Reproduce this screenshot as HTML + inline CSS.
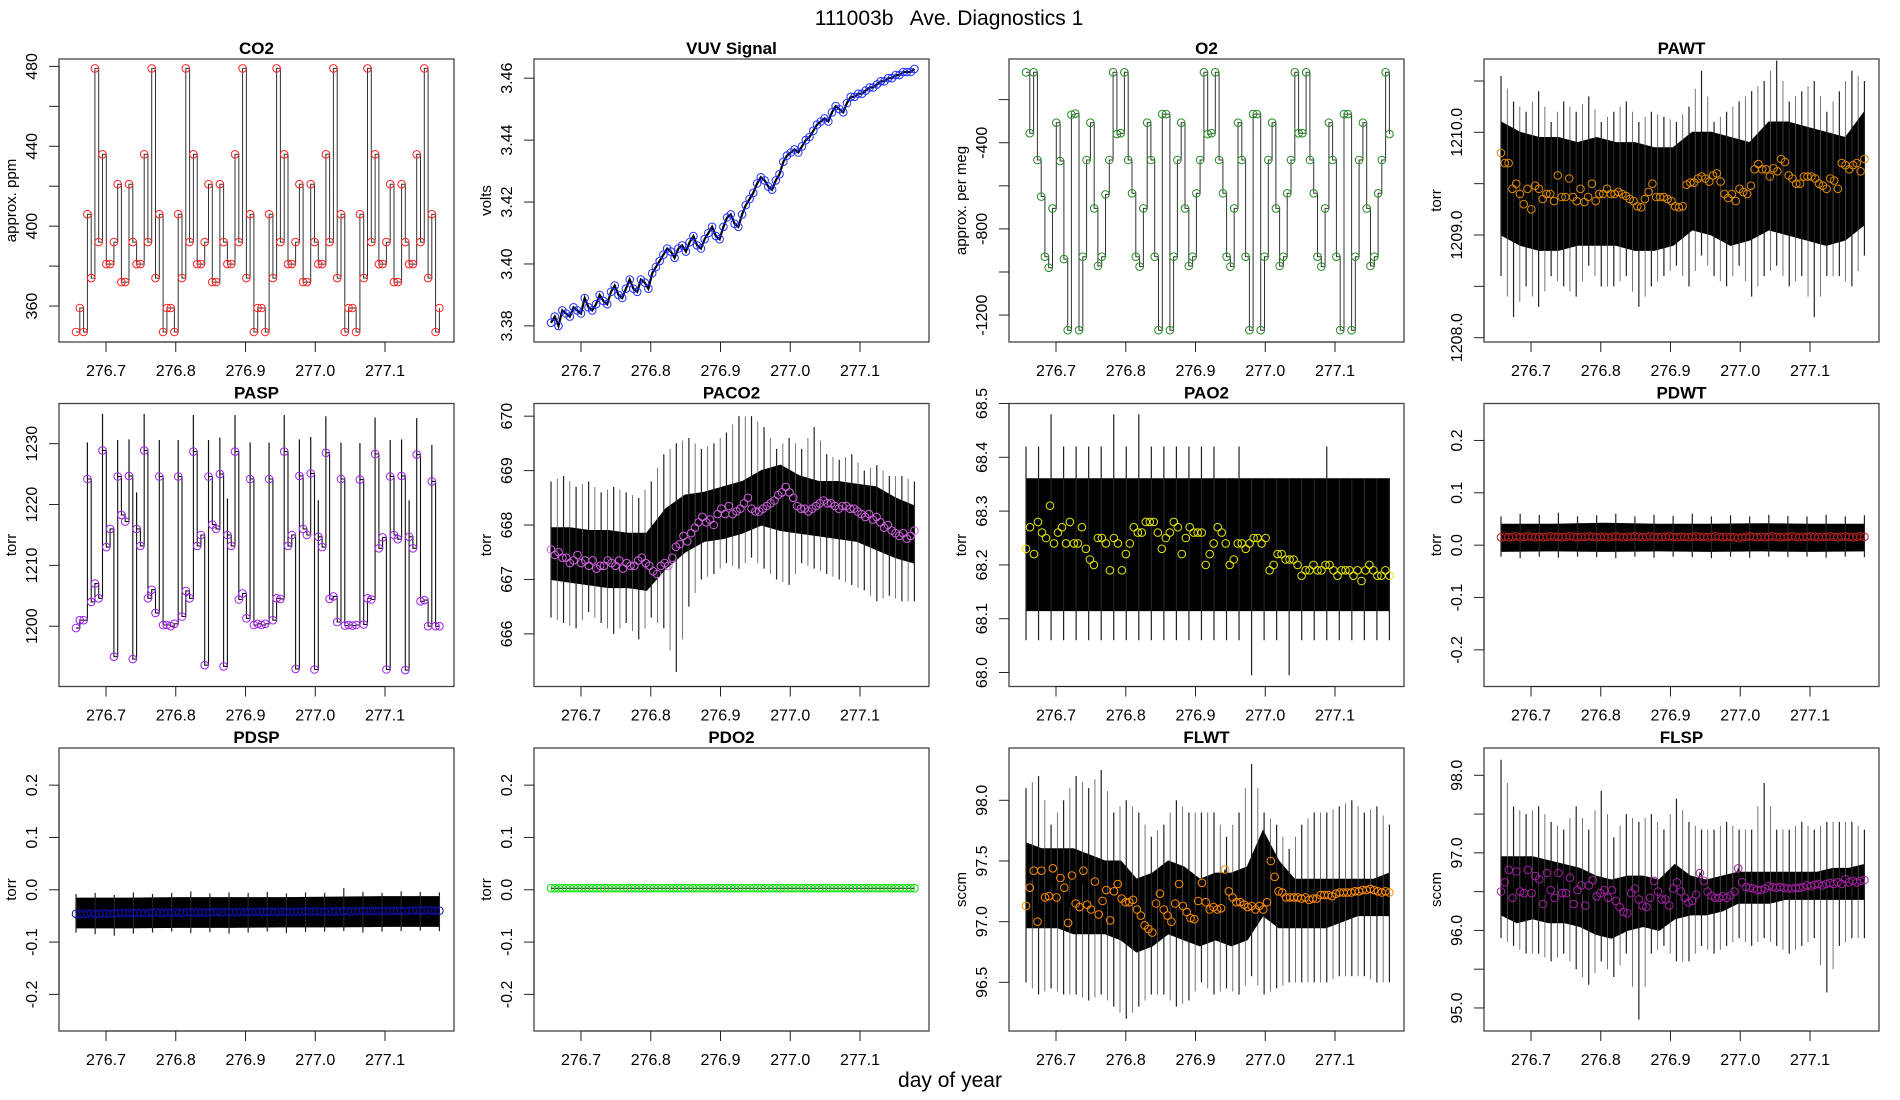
<!DOCTYPE html>
<html><head><meta charset="utf-8"><title>111003b Ave. Diagnostics 1</title>
<style>html,body{margin:0;padding:0;background:#fff}svg{display:block;font-family:"Liberation Sans",Arial,sans-serif}</style>
</head><body>
<svg id="chart" xmlns="http://www.w3.org/2000/svg" width="1900" height="1100" viewBox="0 0 1900 1100">
<rect x="0" y="0" width="1900" height="1100" fill="#fff"/>
<text x="949" y="25" font-size="21" text-anchor="middle" style="white-space:pre" xml:space="preserve">111003b   Ave. Diagnostics 1</text>
<text x="950" y="1087" font-size="21" text-anchor="middle">day of year</text>
<g id="panels"></g>
</svg>
<script>
const xTicks=[276.7,276.8,276.9,277.0,277.1];
const xTickLabels=["276.7","276.8","276.9","277.0","277.1"];
const tStart=276.657, tEnd=277.178;

const co2=[347,359,347,406,374,479,392,436,381,381,392,421,372,372,421,392,381,381,436,392,479,374,406,347,359,359,347,406,374,479,392,436,381,381,392,421,372,372,421,392,381,381,436,392,479,374,406,347,359,359,347,406,374,479,392,436,381,381,392,421,372,372,421,392,381,381,436,392,479,374,406,347,359,359,347,406,374,479,392,436,381,381,392,421,372,372,421,392,381,381,436,392,479,374,406,347,359];
const vuv=[3.381,3.383,3.380,3.385,3.384,3.383,3.386,3.385,3.384,3.389,3.386,3.385,3.387,3.390,3.388,3.387,3.391,3.393,3.390,3.389,3.392,3.395,3.392,3.391,3.395,3.394,3.392,3.397,3.399,3.401,3.403,3.405,3.404,3.402,3.405,3.406,3.404,3.407,3.409,3.406,3.405,3.408,3.410,3.412,3.409,3.408,3.412,3.415,3.416,3.413,3.412,3.416,3.419,3.421,3.423,3.426,3.428,3.427,3.425,3.424,3.427,3.429,3.433,3.435,3.436,3.437,3.436,3.438,3.440,3.441,3.443,3.445,3.446,3.447,3.446,3.449,3.451,3.450,3.449,3.452,3.454,3.454,3.455,3.455,3.456,3.457,3.457,3.458,3.459,3.459,3.460,3.460,3.461,3.461,3.462,3.462,3.462,3.463];
const o2=[-73,-356,-73,-480,-650,-929,-980,-705,-307,-485,-940,-1270,-270,-265,-1270,-929,-480,-307,-705,-972,-929,-640,-480,-73,-360,-356,-73,-480,-635,-929,-975,-705,-307,-480,-929,-1270,-267,-267,-1270,-929,-480,-307,-705,-972,-929,-635,-480,-73,-360,-356,-73,-480,-635,-929,-975,-705,-307,-480,-929,-1270,-267,-267,-1270,-929,-480,-307,-705,-972,-929,-635,-480,-73,-356,-356,-73,-480,-635,-929,-975,-705,-307,-480,-929,-1270,-267,-267,-1270,-929,-480,-307,-705,-972,-929,-635,-480,-73,-360];
const pawt=[1209.80,1209.70,1209.70,1209.45,1209.50,1209.40,1209.30,1209.45,1209.25,1209.48,1209.45,1209.35,1209.40,1209.40,1209.33,1209.58,1209.37,1209.37,1209.55,1209.37,1209.33,1209.45,1209.32,1209.37,1209.50,1209.33,1209.40,1209.40,1209.45,1209.40,1209.40,1209.42,1209.40,1209.38,1209.35,1209.33,1209.28,1209.27,1209.35,1209.42,1209.50,1209.37,1209.37,1209.37,1209.35,1209.33,1209.28,1209.27,1209.28,1209.49,1209.51,1209.51,1209.55,1209.57,1209.55,1209.52,1209.58,1209.60,1209.52,1209.40,1209.36,1209.40,1209.33,1209.45,1209.42,1209.40,1209.48,1209.64,1209.69,1209.64,1209.64,1209.57,1209.65,1209.62,1209.74,1209.71,1209.58,1209.55,1209.50,1209.50,1209.57,1209.57,1209.57,1209.55,1209.50,1209.48,1209.45,1209.55,1209.53,1209.45,1209.70,1209.68,1209.64,1209.68,1209.70,1209.62,1209.74];
const pawtBandHi=[1210.1,1210.0,1209.95,1209.95,1209.9,1209.95,1209.9,1209.9,1209.85,1209.85,1210.0,1210.0,1209.95,1209.9,1210.1,1210.1,1210.05,1210.0,1209.95,1210.2];
const pawtBandLo=[1209.0,1208.9,1208.85,1208.85,1208.9,1208.9,1208.9,1208.85,1208.85,1208.9,1209.05,1209.0,1208.9,1208.95,1209.05,1209.0,1208.95,1208.9,1208.95,1209.1];
const pawtSpikeHi=[1210.55,1210.3,1210.2,1210.4,1210.1,1210.3,1210.2,1210.35,1210.1,1210.2,1210.3,1210.1,1210.2,1210.15,1210.1,1210.25,1210.6,1210.1,1210.2,1210.3,1210.4,1210.5,1210.7,1210.3,1210.4,1210.5,1210.2,1210.4,1210.6,1210.5];
const pawtSpikeLo=[1208.6,1208.2,1208.5,1208.3,1208.6,1208.5,1208.4,1208.7,1208.5,1208.5,1208.6,1208.3,1208.5,1208.6,1208.7,1208.5,1208.8,1208.6,1208.5,1208.7,1208.4,1208.6,1208.7,1208.5,1208.6,1208.2,1208.6,1208.6,1208.5,1208.8];
const pasp=[1199.7,1201,1201,1224.2,1204,1207,1204.6,1228.9,1213,1216,1195,1224.6,1218.3,1217.2,1224.7,1194.6,1216,1213.2,1228.9,1204.6,1206,1202.2,1224.6,1200.2,1200.2,1200,1200.4,1224.6,1201.6,1205.8,1204.6,1228.7,1213.2,1215,1193.6,1224.6,1216.7,1216,1225,1193.4,1215,1213.2,1228.7,1204.4,1205.4,1201.3,1224.2,1200.2,1200.4,1200.2,1200.4,1224.2,1201,1204.6,1204.5,1228.7,1213.2,1215,1193,1224.7,1216,1215,1225.1,1192.9,1214.7,1213,1228.5,1204.5,1204.9,1200.7,1224.2,1200.1,1200.2,1200.1,1200.2,1224.1,1200.3,1204.6,1204.4,1228.3,1212.8,1214.6,1192.9,1224.6,1215,1214.3,1224.7,1192.8,1214.7,1212.8,1228.2,1204.1,1204.3,1200,1223.8,1200,1200];
const paco2=[667.55,667.45,667.50,667.40,667.40,667.30,667.35,667.45,667.30,667.35,667.25,667.35,667.20,667.25,667.25,667.35,667.30,667.25,667.35,667.20,667.30,667.25,667.25,667.35,667.40,667.30,667.25,667.15,667.10,667.25,667.30,667.25,667.40,667.60,667.65,667.80,667.70,667.85,667.95,668.05,668.15,668.05,668.10,668.00,668.20,668.30,668.20,668.35,668.20,668.25,668.30,668.40,668.50,668.30,668.25,668.25,668.30,668.35,668.40,668.45,668.55,668.60,668.70,668.60,668.50,668.35,668.30,668.30,668.25,668.30,668.35,668.40,668.45,668.40,668.40,668.35,668.30,668.35,668.35,668.30,668.30,668.25,668.20,668.15,668.20,668.10,668.15,668.05,667.95,668.00,667.90,667.85,667.80,667.85,667.75,667.80,667.90];
const paco2BandHi=[667.95,667.95,667.9,667.9,667.85,667.85,668.3,668.55,668.6,668.7,668.8,669.0,669.1,668.9,668.8,668.8,668.75,668.7,668.5,668.35];
const paco2BandLo=[667.0,666.95,666.9,666.85,666.85,666.8,667.2,667.5,667.7,667.75,667.85,668.0,667.9,667.85,667.8,667.75,667.7,667.55,667.4,667.3];
const paco2SpikeHi=[668.8,668.9,668.7,668.8,668.6,668.7,668.6,668.5,668.8,669.3,669.5,669.6,669.4,669.5,669.7,670.0,670.0,669.8,669.4,669.6,669.4,669.8,669.3,669.2,669.3,669.0,669.1,668.9,668.9,668.8];
const paco2SpikeLo=[666.3,666.2,666.1,666.4,666.2,666.0,666.2,665.9,666.3,666.1,665.3,666.5,667.0,667.1,667.3,667.2,667.4,667.2,667.0,666.9,667.3,667.2,667.1,667.0,666.9,666.8,666.6,666.7,666.6,666.6];
const pao2=[68.23,68.27,68.22,68.28,68.26,68.25,68.31,68.24,68.26,68.27,68.24,68.28,68.24,68.24,68.27,68.23,68.21,68.20,68.25,68.25,68.24,68.19,68.25,68.24,68.19,68.22,68.24,68.27,68.26,68.26,68.28,68.28,68.28,68.26,68.23,68.25,68.26,68.28,68.27,68.22,68.25,68.27,68.26,68.26,68.26,68.20,68.22,68.24,68.27,68.26,68.24,68.20,68.21,68.24,68.24,68.23,68.24,68.25,68.25,68.24,68.25,68.19,68.20,68.22,68.22,68.21,68.21,68.21,68.20,68.18,68.19,68.19,68.20,68.19,68.19,68.20,68.20,68.19,68.18,68.19,68.19,68.19,68.18,68.19,68.17,68.19,68.20,68.19,68.18,68.18,68.19,68.18];
const pao2BandHi=[68.36,68.36];
const pao2BandLo=[68.115,68.115];
const pao2SpikeHi=[68.42,68.42,68.48,68.42,68.42,68.42,68.42,68.48,68.42,68.48,68.42,68.42,68.42,68.42,68.42,68.42,68.36,68.42,68.36,68.36,68.36,68.36,68.36,68.36,68.42,68.36,68.36,68.36,68.36,68.36];
const pao2SpikeLo=[68.06,68.06,68.06,68.06,68.06,68.06,68.06,68.06,68.06,68.06,68.06,68.06,68.06,68.06,68.06,68.06,68.06,68.06,67.995,68.06,68.06,67.995,68.06,68.06,68.06,68.06,68.06,68.06,68.06,68.06];
const pdwt=[0.015,0.016,0.015,0.016,0.017,0.015,0.016,0.017,0.016,0.015,0.016,0.015,0.016,0.017,0.016,0.016,0.015,0.016,0.017,0.016,0.015,0.016,0.016,0.017,0.016,0.015,0.016,0.016,0.015,0.016,0.017,0.016,0.015,0.016,0.016,0.017,0.016,0.015,0.016,0.017,0.016,0.015,0.016,0.016,0.017,0.016,0.015,0.016,0.016,0.015,0.016,0.017,0.016,0.016,0.015,0.016,0.017,0.016,0.015,0.016,0.016,0.015,0.014,0.015,0.016,0.017,0.016,0.015,0.016,0.015,0.016,0.017,0.016,0.015,0.016,0.016,0.017,0.016,0.015,0.016,0.016,0.017,0.016,0.015,0.016,0.016,0.017,0.016,0.015,0.016,0.017,0.016,0.015,0.016,0.017,0.016];
const pdwtBandHi=[0.040,0.040,0.042,0.040,0.040,0.041,0.040,0.040];
const pdwtBandLo=[-0.012,-0.011,-0.012,-0.011,-0.012,-0.011,-0.012,-0.011];
const pdwtSpikeHi=[0.055,0.06,0.058,0.062,0.055,0.057,0.06,0.055,0.058,0.056,0.06,0.055,0.057,0.055,0.058,0.056,0.055,0.058,0.055,0.057];
const pdwtSpikeLo=[-0.022,-0.025,-0.022,-0.024,-0.022,-0.023,-0.025,-0.022,-0.024,-0.022,-0.023,-0.025,-0.022,-0.024,-0.022,-0.023,-0.022,-0.024,-0.022,-0.023];
const pdsp=[-0.046,-0.047,-0.046,-0.046,-0.045,-0.047,-0.046,-0.045,-0.045,-0.046,-0.045,-0.045,-0.044,-0.045,-0.044,-0.045,-0.044,-0.044,-0.045,-0.044,-0.044,-0.043,-0.044,-0.044,-0.043,-0.044,-0.043,-0.044,-0.044,-0.043,-0.043,-0.044,-0.043,-0.043,-0.044,-0.043,-0.043,-0.042,-0.043,-0.043,-0.042,-0.043,-0.043,-0.042,-0.043,-0.042,-0.043,-0.042,-0.042,-0.043,-0.042,-0.042,-0.043,-0.042,-0.042,-0.042,-0.043,-0.042,-0.042,-0.042,-0.041,-0.042,-0.042,-0.041,-0.042,-0.042,-0.041,-0.042,-0.041,-0.042,-0.041,-0.041,-0.042,-0.041,-0.041,-0.040,-0.041,-0.041,-0.040,-0.041,-0.040,-0.040,-0.041,-0.040,-0.040,-0.040,-0.041,-0.040,-0.040,-0.039,-0.040,-0.040,-0.039,-0.040,-0.040,-0.040];
const pdspBandHi=[-0.016,-0.016,-0.015,-0.015,-0.015,-0.014,-0.013,-0.013];
const pdspBandLo=[-0.073,-0.073,-0.072,-0.072,-0.071,-0.071,-0.070,-0.070];
const pdspSpikeHi=[-0.008,-0.006,-0.010,-0.005,-0.008,-0.006,-0.003,-0.007,-0.005,-0.006,-0.004,-0.007,-0.005,-0.006,0.003,-0.004,-0.006,-0.003,-0.004,-0.005];
const pdspSpikeLo=[-0.082,-0.085,-0.088,-0.084,-0.082,-0.080,-0.083,-0.081,-0.084,-0.082,-0.080,-0.083,-0.081,-0.080,-0.079,-0.082,-0.080,-0.079,-0.078,-0.079];
const pdo2=[0.003,0.003,0.003,0.003,0.003,0.003,0.003,0.003,0.003,0.003,0.003,0.003,0.003,0.003,0.003,0.003,0.003,0.003,0.003,0.003,0.003,0.003,0.003,0.003,0.003,0.003,0.003,0.003,0.003,0.003,0.003,0.003,0.003,0.003,0.003,0.003,0.003,0.003,0.003,0.003,0.003,0.003,0.003,0.003,0.003,0.003,0.003,0.003,0.003,0.003,0.003,0.003,0.003,0.003,0.003,0.003,0.003,0.003,0.003,0.003,0.003,0.003,0.003,0.003,0.003,0.003,0.003,0.003,0.003,0.003,0.003,0.003,0.003,0.003,0.003,0.003,0.003,0.003,0.003,0.003,0.003,0.003,0.003,0.003,0.003,0.003,0.003,0.003,0.003,0.003,0.003,0.003,0.003,0.003,0.003,0.003];
const flwt=[97.13,97.28,97.42,97.0,97.42,97.20,97.21,97.44,97.20,97.36,97.28,96.99,97.38,97.15,97.12,97.42,97.14,97.10,97.33,97.06,97.17,97.26,97.01,97.25,97.31,97.19,97.16,97.16,97.18,97.10,97.05,96.97,96.94,96.91,97.15,97.23,97.10,97.05,97.00,97.15,97.31,97.13,97.08,97.03,97.02,97.17,97.32,97.16,97.10,97.12,97.10,97.11,97.43,97.25,97.20,97.16,97.16,97.14,97.12,97.13,97.10,97.13,97.10,97.16,97.50,97.37,97.25,97.24,97.20,97.20,97.20,97.20,97.19,97.20,97.18,97.19,97.19,97.22,97.22,97.22,97.21,97.23,97.24,97.24,97.24,97.24,97.25,97.25,97.26,97.26,97.27,97.26,97.25,97.24,97.25,97.24];
const flwtBandHi=[97.65,97.6,97.6,97.6,97.55,97.5,97.5,97.35,97.4,97.5,97.45,97.35,97.4,97.4,97.45,97.75,97.5,97.35,97.35,97.35,97.35,97.35,97.35,97.4];
const flwtBandLo=[96.95,96.95,96.95,96.9,96.9,96.9,96.85,96.75,96.8,96.9,96.85,96.8,96.85,96.8,96.85,97.05,96.95,96.95,96.95,96.95,97.0,97.05,97.05,97.05];
const flwtSpikeHi=[98.1,98.2,97.8,98.0,98.2,98.1,98.25,97.9,98.0,97.9,97.7,97.8,98.0,97.9,97.9,97.9,97.7,97.9,98.3,97.9,97.8,97.6,97.8,97.9,97.9,97.95,98.0,97.9,97.95,97.8];
const flwtSpikeLo=[96.5,96.4,96.45,96.4,96.4,96.35,96.4,96.3,96.2,96.3,96.4,96.4,96.3,96.35,96.5,96.4,96.45,96.4,96.55,96.4,96.45,96.5,96.5,96.5,96.5,96.55,96.55,96.55,96.5,96.5];
const flsp=[96.50,96.62,96.78,96.42,96.76,96.50,96.48,96.78,96.48,96.70,96.66,96.34,96.74,96.52,96.42,96.74,96.48,96.48,96.68,96.34,96.52,96.58,96.32,96.58,96.65,96.44,96.48,96.52,96.42,96.52,96.38,96.30,96.24,96.22,96.48,96.54,96.40,96.32,96.30,96.42,96.64,96.50,96.40,96.40,96.32,96.54,96.62,96.50,96.42,96.36,96.38,96.46,96.74,96.64,96.50,96.45,96.42,96.42,96.44,96.42,96.45,96.50,96.80,96.62,96.56,96.55,96.54,96.52,96.52,96.54,96.57,96.56,96.55,96.56,96.55,96.54,96.54,96.55,96.55,96.56,96.58,96.57,96.59,96.60,96.58,96.60,96.61,96.60,96.62,96.60,96.66,96.62,96.64,96.62,96.64,96.65];
const flspBandHi=[96.95,96.95,96.95,96.9,96.85,96.8,96.7,96.65,96.7,96.7,96.65,96.85,96.7,96.65,96.7,96.75,96.75,96.75,96.75,96.75,96.75,96.8,96.8,96.85];
const flspBandLo=[96.2,96.1,96.15,96.1,96.1,96.05,95.95,95.9,96.0,96.05,96.0,96.15,96.2,96.2,96.25,96.35,96.35,96.35,96.4,96.4,96.4,96.4,96.4,96.4];
const flspSpikeHi=[98.2,97.6,97.5,97.6,97.4,97.3,97.6,97.3,97.8,97.2,97.5,97.4,97.5,97.3,97.7,97.4,97.3,97.3,97.4,97.3,97.3,97.9,97.3,97.3,97.4,97.3,97.4,97.4,97.4,97.3];
const flspSpikeLo=[95.9,95.8,95.7,95.7,95.6,95.7,95.5,95.3,95.6,95.4,95.7,94.85,95.7,95.8,95.6,95.6,95.8,95.7,95.8,95.9,95.8,95.9,95.8,95.7,95.8,95.9,95.2,95.8,95.9,95.9];

const co2Ticks=[360,380,400,420,440,460,480], co2Labels=[360,400,440,480];
const vuvTicks=[3.38,3.40,3.42,3.44,3.46], vuvLabels=[3.38,3.40,3.42,3.44,3.46];
const o2Ticks=[-1200,-1000,-800,-600,-400,-200], o2Labels=[-1200,-800,-400];
const pawtTicks=[1208,1208.5,1209,1209.5,1210,1210.5], pawtLabels=[1208,1209,1210];
const paspTicks=[1200,1210,1220,1230], paspLabels=[1200,1210,1220,1230];
const paco2Ticks=[666,667,668,669,670], paco2Labels=[666,667,668,669,670];
const pao2Ticks=[68.0,68.1,68.2,68.3,68.4,68.5], pao2Labels=[68.0,68.1,68.2,68.3,68.4,68.5];
const pdTicks=[-0.2,-0.1,0,0.1,0.2], pdLabels=[-0.2,-0.1,0,0.1,0.2];
const flwtTicks=[96.5,97,97.5,98], flwtLabels=[96.5,97,97.5,98];
const flspTicks=[95,95.5,96,96.5,97,97.5,98], flspLabels=[95,96,97,98];

const NS="http://www.w3.org/2000/svg";
const X0=276.6326, PXU=697.5, PW=395, PH=283;
const colsX=[59,534,1009,1484], rowsY=[59,403.5,748];
const root=document.getElementById('panels');
function mk(tag,attrs,parent){const e=document.createElementNS(NS,tag);for(const k in attrs)e.setAttribute(k,attrs[k]);(parent||root).appendChild(e);return e;}
function tx(i,n){return tStart+i*(tEnd-tStart)/(n-1);}

function panel(p){
  const L=colsX[p.c], T=rowsY[p.r];
  const g=mk('g',{});
  
  
  const xs=t=>L+(t-X0)*PXU;
  const ys=v=>T+(p.ymax-v)/(p.ymax-p.ymin)*PH;
  const clipId='clip-'+p.key;
  const cp=mk('clipPath',{id:clipId},g); mk('rect',{x:L,y:T,width:PW,height:PH},cp);
  const plot=mk('g',{'clip-path':'url(#'+clipId+')'},g);
  
  
  if(p.bandHi){
    let pts=[];
    p.bandHi.forEach((v,i)=>pts.push(xs(tx(i,p.bandHi.length)).toFixed(1)+','+ys(v).toFixed(1)));
    for(let i=p.bandLo.length-1;i>=0;i--) pts.push(xs(tx(i,p.bandLo.length)).toFixed(1)+','+ys(p.bandLo[i]).toFixed(1));
    const band=mk('polygon',{points:pts.join(' '),fill:'#000',stroke:'#000','stroke-width':1},plot);
    
    
  }
  if(p.spikeHi){
    const n=p.spikeHi.length;
    for(let i=0;i<n;i++){
      const x=xs(tx(i,n));
      const ln=mk('line',{x1:x,x2:x,y1:ys(p.spikeHi[i]),y2:ys(p.spikeLo[i]),stroke:'#222','stroke-width':1.2},plot);
      
      
      if(p.dense && i<n-1){
        const x2=xs((tx(i,n)+tx(i+1,n))/2);
        const hi=(p.spikeHi[i]+p.spikeHi[i+1])/2, lo=(p.spikeLo[i]+p.spikeLo[i+1])/2;
        const l2=mk('line',{x1:x2,x2:x2,y1:ys(hi),y2:ys(lo),stroke:'#555','stroke-width':0.8},plot);
        
        
      }
    }
  }
  const n=p.data.length;
  let d='';
  for(let i=0;i<n;i++){
    const x=xs(tx(i,n)), y=ys(p.data[i]);
    if(i===0) d+='M'+x.toFixed(1)+','+y.toFixed(1);
    else if(p.step){ d+='H'+x.toFixed(1)+'V'+y.toFixed(1); }
    else d+='L'+x.toFixed(1)+','+y.toFixed(1);
  }
  const line=mk('path',{d:d,fill:'none',stroke:p.lineColor||'#222','stroke-width':p.lineW||1},plot);
  
  
  if(p.overshoot){
    for(let i=1;i<n;i++){
      if(p.data[i]-p.data[i-1]>5){
        const x=xs(tx(i,n));
        const sp=mk('line',{x1:x,x2:x,y1:ys(p.data[i]),y2:ys(p.data[i]+p.overshoot),stroke:'#111','stroke-width':1.2},plot);
        
        
      }
    }
  }
  for(let i=0;i<n;i++){
    const c=mk('circle',{cx:xs(tx(i,n)).toFixed(1),cy:ys(p.data[i]).toFixed(1),r:3.8,fill:'none',stroke:p.color,'stroke-width':1},plot);
    
    
  }
  const box=mk('rect',{x:L,y:T,width:PW,height:PH,fill:'none',stroke:'#444','stroke-width':1.3},g);
  
  
  const tt=mk('text',{x:L+PW/2,y:T-5,'font-size':17,'font-weight':'bold','text-anchor':'middle'},g);
  tt.textContent=p.title;
  
  
  const xa=mk('g',{},g);
  
  
  mk('line',{x1:xs(xTicks[0]),x2:xs(xTicks[xTicks.length-1]),y1:T+PH,y2:T+PH,stroke:'#222','stroke-width':1},xa);
  xTicks.forEach((t,i)=>{
    const x=xs(t);
    mk('line',{x1:x,x2:x,y1:T+PH,y2:T+PH+10,stroke:'#222','stroke-width':1},xa);
    const lb=mk('text',{x:x,y:T+PH+34,'font-size':16,'text-anchor':'middle'},xa);
    lb.textContent=xTickLabels[i];
    
    
  });
  const ya=mk('g',{},g);
  
  
  mk('line',{x1:L,x2:L,y1:ys(p.ticks[0]),y2:ys(p.ticks[p.ticks.length-1]),stroke:'#222','stroke-width':1},ya);
  p.ticks.forEach(v=>mk('line',{x1:L-10,x2:L,y1:ys(v),y2:ys(v),stroke:'#222','stroke-width':1},ya));
  p.labels.forEach(v=>{
    const y=ys(v), x=L-22;
    const lb=mk('text',{x:x,y:y,'font-size':16,'text-anchor':'middle',transform:'rotate(-90 '+x+' '+y.toFixed(1)+')'},ya);
    lb.textContent=v.toFixed(p.dec);
    
    
  });
  const yt=mk('text',{x:L-43,y:T+PH/2,'font-size':15,'text-anchor':'middle',transform:'rotate(-90 '+(L-43)+' '+(T+PH/2)+')'},g);
  yt.textContent=p.ylab;
  
  
}

panel({key:'co2',title:'CO2',ylab:'approx. ppm',r:0,c:0,ymin:342,ymax:483.7,data:co2,color:'#ff2020',step:true,lineColor:'#333',ticks:co2Ticks,labels:co2Labels,dec:0});
panel({key:'vuv',title:'VUV Signal',ylab:'volts',r:0,c:1,ymin:3.3748,ymax:3.4662,data:vuv,color:'#2030ff',lineColor:'#000',lineW:2.2,ticks:vuvTicks,labels:vuvLabels,dec:2});
panel({key:'o2',title:'O2',ylab:'approx. per meg',r:0,c:2,ymin:-1325,ymax:-11.4,data:o2,color:'#228b22',step:true,lineColor:'#333',ticks:o2Ticks,labels:o2Labels,dec:0});
panel({key:'pawt',title:'PAWT',ylab:'torr',r:0,c:3,ymin:1207.958,ymax:1210.714,data:pawt,color:'#e08a00',bandHi:pawtBandHi,bandLo:pawtBandLo,spikeHi:pawtSpikeHi,spikeLo:pawtSpikeLo,dense:true,lineColor:'#000',ticks:pawtTicks,labels:pawtLabels,dec:1});
panel({key:'pasp',title:'PASP',ylab:'torr',r:1,c:0,ymin:1190.1,ymax:1236.6,data:pasp,color:'#a020f0',step:true,lineColor:'#111',lineW:1.1,overshoot:6,ticks:paspTicks,labels:paspLabels,dec:0});
panel({key:'paco2',title:'PACO2',ylab:'torr',r:1,c:1,ymin:665.033,ymax:670.233,data:paco2,color:'#d060e0',bandHi:paco2BandHi,bandLo:paco2BandLo,spikeHi:paco2SpikeHi,spikeLo:paco2SpikeLo,dense:true,lineColor:'#000',ticks:paco2Ticks,labels:paco2Labels,dec:0});
panel({key:'pao2',title:'PAO2',ylab:'torr',r:1,c:2,ymin:67.974,ymax:68.5,data:pao2,color:'#e6e600',bandHi:pao2BandHi,bandLo:pao2BandLo,spikeHi:pao2SpikeHi,spikeLo:pao2SpikeLo,lineColor:'#000',ticks:pao2Ticks,labels:pao2Labels,dec:1});
panel({key:'pdwt',title:'PDWT',ylab:'torr',r:1,c:3,ymin:-0.27,ymax:0.2706,data:pdwt,color:'#b22222',bandHi:pdwtBandHi,bandLo:pdwtBandLo,spikeHi:pdwtSpikeHi,spikeLo:pdwtSpikeLo,lineColor:'#000',ticks:pdTicks,labels:pdLabels,dec:1});
panel({key:'pdsp',title:'PDSP',ylab:'torr',r:2,c:0,ymin:-0.27,ymax:0.271,data:pdsp,color:'#1010a0',bandHi:pdspBandHi,bandLo:pdspBandLo,spikeHi:pdspSpikeHi,spikeLo:pdspSpikeLo,lineColor:'#000',ticks:pdTicks,labels:pdLabels,dec:1});
panel({key:'pdo2',title:'PDO2',ylab:'torr',r:2,c:1,ymin:-0.27,ymax:0.271,data:pdo2,color:'#00e000',lineColor:'#000',ticks:pdTicks,labels:pdLabels,dec:1});
panel({key:'flwt',title:'FLWT',ylab:'sccm',r:2,c:2,ymin:96.099,ymax:98.431,data:flwt,color:'#ff8c00',bandHi:flwtBandHi,bandLo:flwtBandLo,spikeHi:flwtSpikeHi,spikeLo:flwtSpikeLo,dense:true,lineColor:'#000',ticks:flwtTicks,labels:flwtLabels,dec:1});
panel({key:'flsp',title:'FLSP',ylab:'sccm',r:2,c:3,ymin:94.703,ymax:98.352,data:flsp,color:'#a020a0',bandHi:flspBandHi,bandLo:flspBandLo,spikeHi:flspSpikeHi,spikeLo:flspSpikeLo,dense:true,lineColor:'#000',ticks:flspTicks,labels:flspLabels,dec:1});
</script>
</body></html>
